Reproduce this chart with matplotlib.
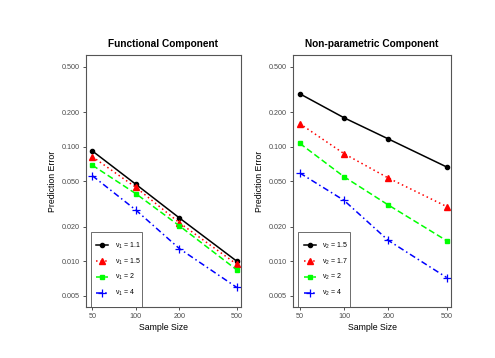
import matplotlib
matplotlib.use("Agg")
import matplotlib.pyplot as plt
from matplotlib.patches import Rectangle
from matplotlib.ticker import FixedLocator, NullLocator

plt.rcParams["font.family"] = ["Liberation Sans", "DejaVu Sans"]
plt.rcParams["mathtext.fontset"] = "custom"
plt.rcParams["mathtext.rm"] = "Liberation Sans"
plt.rcParams["mathtext.it"] = "Liberation Sans:italic"

sample_sizes = [50, 100, 200, 500]
yticks = [0.005, 0.010, 0.020, 0.050, 0.100, 0.200, 0.500]
ytick_labels = ["0.005", "0.010", "0.020", "0.050", "0.100", "0.200", "0.500"]

func_labels = [r"$\mathrm{\nu}_1$ = 1.1", r"$\mathrm{\nu}_1$ = 1.5", r"$\mathrm{\nu}_1$ = 2", r"$\mathrm{\nu}_1$ = 4"]
func_v11 = [0.0918, 0.0470, 0.0239, 0.0100]
func_v15 = [0.0818, 0.0442, 0.0217, 0.0094]
func_v2 = [0.0689, 0.0389, 0.0204, 0.0084]
func_v4 = [0.0558, 0.0280, 0.0129, 0.0059]

np_labels = [r"$\mathrm{\nu}_2$ = 1.5", r"$\mathrm{\nu}_2$ = 1.7", r"$\mathrm{\nu}_2$ = 2", r"$\mathrm{\nu}_2$ = 4"]
np_v15 = [0.290, 0.179, 0.117, 0.0665]
np_v17 = [0.159, 0.087, 0.0533, 0.0300]
np_v2 = [0.107, 0.0547, 0.0310, 0.0151]
np_v4 = [0.059, 0.034, 0.0152, 0.0072]

styles = [
    dict(color="black", linestyle="-", marker="o", markersize=3.0),
    dict(color="#FF0000", linestyle=(0, (1, 2)), marker="^", markersize=4.0),
    dict(color="#00FF00", linestyle=(0, (4, 2)), marker="s", markersize=3.2),
    dict(color="#0000FF", linestyle=(0, (4, 2, 1, 2)), marker="+", markersize=5.5, markeredgewidth=0.9),
]

fig = plt.figure(figsize=(4.95, 3.58), dpi=100)
W, H = 495, 358

def make_ax(x0, x1, y0, y1):
    return fig.add_axes([x0 / W, 1 - y1 / H, (x1 - x0) / W, (y1 - y0) / H])

panels = [
    (make_ax(85.7, 241, 55, 307), "Functional Component", func_labels,
     [func_v11, func_v15, func_v2, func_v4]),
    (make_ax(293, 451, 55, 307), "Non-parametric Component", np_labels,
     [np_v15, np_v17, np_v2, np_v4]),
]

for ax, title, labels, series in panels:
    for vals, lab, st in zip(series, labels, styles):
        ax.plot(sample_sizes, vals, label=lab, linewidth=1.1, **st)
    ax.set_xscale("log")
    ax.set_yscale("log")
    ax.set_xlim(45.0, 535)
    ax.set_ylim(0.00398, 0.632)
    ax.xaxis.set_major_locator(FixedLocator(sample_sizes))
    ax.xaxis.set_minor_locator(NullLocator())
    ax.set_xticklabels([str(s) for s in sample_sizes])
    ax.yaxis.set_major_locator(FixedLocator(yticks))
    ax.yaxis.set_minor_locator(NullLocator())
    ax.set_yticklabels(ytick_labels)
    ax.tick_params(axis="both", which="major", labelsize=5.2, labelcolor="#4D4D4D",
                   color="#333333", length=2.5, width=0.6, pad=2)
    for sp in ax.spines.values():
        sp.set_color("#555555")
        sp.set_linewidth(0.8)
    ax.set_title(title, fontsize=7.3, fontweight="bold", pad=6)
    ax.set_xlabel("Sample Size", fontsize=6.3, labelpad=2)
    ax.set_ylabel("Prediction Error", fontsize=6.3, labelpad=3)
    # legend box (ggplot style)
    box = Rectangle((0.032, 0.0), 0.331, 0.298, transform=ax.transAxes, fill=True,
                    facecolor="white", edgecolor="#555555", linewidth=0.6, zorder=4)
    ax.add_patch(box)
    leg = ax.legend(loc="center left", bbox_to_anchor=(0.068, 0.149), borderaxespad=0,
                    fontsize=5.0, frameon=False, handlelength=1.75,
                    labelspacing=0.8, borderpad=0, handletextpad=0.9)
    leg.set_zorder(5)

fig.savefig("out.png", dpi=100)
